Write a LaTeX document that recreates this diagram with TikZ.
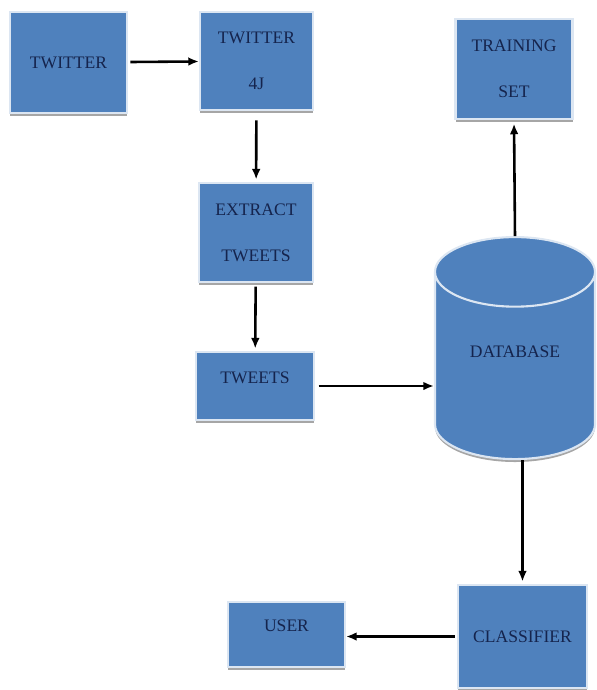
\documentclass[tikz,border=0pt]{standalone}
\usepackage{fontspec}
\setmainfont{Liberation Serif}
\usetikzlibrary{arrows.meta,positioning,shapes.geometric,shadows}
\definecolor{boxblue}{HTML}{4F81BD}
\definecolor{boxrim} {HTML}{DCE6F2}
\definecolor{navy}   {HTML}{15244D}
\tikzset{
  shadowy/.style={drop shadow={shadow xshift=0pt, shadow yshift=-2.5pt,
                               fill=gray, opacity=0.7}},
  procbox/.style={
    rectangle, draw=boxrim, line width=1.8pt, fill=boxblue,
    text=navy, font=\fontsize{15}{39}\selectfont, align=center,
    inner sep=2pt, shadowy
  },
  dbnode/.style={
    cylinder, shape border rotate=90, aspect=0.77,
    draw=boxrim, line width=1.8pt, fill=boxblue,
    text=navy, font=\fontsize{15}{39}\selectfont, inner sep=0pt, shadowy
  },
  flowarrow/.style={
    -{Latex[length=3.2mm, width=2.6mm]}, line width=2.2pt, draw=black
  }
}

\begin{document}
\begin{tikzpicture}[x=0.03cm, y=-0.03cm]
        \useasboundingbox (0,0) rectangle (597,690);
        \node[procbox, minimum width=3.51cm, minimum height=3.03cm] (twitter) at (68.5,62.5) {TWITTER};
        \node[procbox, minimum width=3.39cm, minimum height=2.94cm] (fourj) at (256.5,61) {TWITTER\\4J};
        \node[procbox, minimum width=3.42cm, minimum height=2.97cm] (extract) at (256,232.5) {EXTRACT\\TWEETS};
        \node[procbox, minimum width=3.54cm, minimum height=2.04cm, text depth=15pt] (tweets) at (255,386) {TWEETS};
        \node[procbox, minimum width=3.51cm, minimum height=3.0cm] (training) at (514,69) {TRAINING\\SET};
        \node[dbnode, minimum width=4.8cm, minimum height=6.66cm, text depth=25pt] (db) at (515,366) {DATABASE};
        \node[procbox, minimum width=3.87cm, minimum height=3.09cm] (classifier) at (522.5,636.5) {CLASSIFIER};
        \node[procbox, minimum width=3.51cm, minimum height=1.95cm, text depth=15pt] (user) at (286.5,634.5) {USER};
        \draw[flowarrow, shorten <=2pt] (twitter) -- (fourj);
        \draw[flowarrow, shorten <=8pt, shorten >=2pt] (fourj) -- (extract);
        \draw[flowarrow, shorten <=3pt, shorten >=2pt] (extract) -- (tweets);
        \draw[flowarrow, shorten <=3pt] (tweets.east) -- (tweets.east -| db.west);
        \draw[flowarrow, shorten >=3pt] (db.north) -- (training.south);
        \draw[flowarrow, shorten >=2pt] (classifier.north |- db.south) -- (classifier.north);
        \draw[flowarrow, shorten <=2pt] (classifier.west) -- (user.east |- classifier.west);
      \end{tikzpicture}
\end{document}
